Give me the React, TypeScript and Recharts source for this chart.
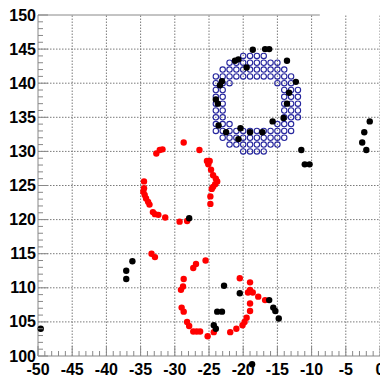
import React from 'react';
import {
  ScatterChart,
  Scatter,
  XAxis,
  YAxis,
  ReferenceLine,
  ReferenceArea,
  ReferenceDot,
} from 'recharts';

const AXIS = '#888888';
const GRID = '#7a7a7a';
const PAD_BLUE = '#26269e';
const HIT_RED = '#ff0000';
const HIT_BLACK = '#000000';
const FONT = '"Liberation Sans", Arial, Helvetica, sans-serif';

const X_DOMAIN: [number, number] = [-50, 0];
const Y_DOMAIN: [number, number] = [100, 150];
const X_MAJOR = [-50, -45, -40, -35, -30, -25, -20, -15, -10, -5, 0];
const Y_MAJOR = [100, 105, 110, 115, 120, 125, 130, 135, 140, 145, 150];
// minor ticks every unit along both axes
const X_TICKS = Array.from({ length: 51 }, (_, i) => -50 + i);
const Y_TICKS = Array.from({ length: 51 }, (_, i) => 100 + i);

// top frame stops here; the corner above y=140 is left blank
const FRAME_CUT_X = -8.8;

// pad ring: one row per y, listing the x of every pad in that row
const PAD_ROWS: [number, number[]][] = [
  [144, [-20, -19, -18, -17]],
  [143, [-22, -21, -20, -19, -18, -17, -16, -15]],
  [142, [-23, -22, -21, -20, -19, -18, -17, -16, -15, -14]],
  [141, [-24, -23, -22, -21, -20, -19, -18, -17, -16, -15, -14, -13]],
  [140, [-24, -23, -22, -15, -14, -13]],
  [139, [-24, -23, -14, -13, -12]],
  [138, [-24, -23, -14, -13, -12]],
  [137, [-24, -23, -14, -13, -12]],
  [136, [-24, -23, -14, -13, -12]],
  [135, [-24, -23, -14, -13, -12]],
  [134, [-24, -23, -22, -15, -14, -13]],
  [133, [-24, -23, -22, -21, -20, -19, -18, -17, -16, -15, -14, -13]],
  [132, [-23, -22, -21, -20, -19, -18, -17, -16, -15, -14]],
  [131, [-22, -21, -20, -19, -18, -17, -16, -15]],
  [130, [-20, -19, -18, -17]],
];

const RED_HITS: [number, number][] = [
  [-28.7, 131.3], [-26.4, 130.2], [-32.7, 129.7], [-32.2, 130.2], [-31.8, 130.3],
  [-25.3, 128.6], [-24.9, 128.6], [-25.1, 128.1], [-24.7, 127.3], [-24.4, 126.5],
  [-24.0, 126.0], [-23.8, 125.6], [-24.1, 125.2], [-24.4, 124.8], [-24.6, 124.5],
  [-24.8, 123.4], [-24.8, 122.3], [-34.5, 125.6], [-34.5, 124.6], [-34.6, 124.1],
  [-34.4, 123.6], [-34.2, 123.1], [-33.9, 122.6], [-33.7, 122.2], [-33.2, 121.1],
  [-32.9, 120.8], [-32.4, 120.7], [-31.4, 120.3], [-29.3, 119.7], [-28.2, 119.8],
  [-33.4, 115.0], [-32.9, 114.5],
  [-25.5, 114.0], [-26.9, 113.5], [-27.3, 112.9], [-28.7, 111.3], [-28.8, 110.2],
  [-29.1, 109.7], [-29.0, 107.1], [-28.7, 106.5], [-28.2, 105.0], [-27.9, 104.4],
  [-27.3, 103.6], [-26.8, 103.6], [-26.3, 103.6], [-25.2, 102.9], [-24.3, 103.5],
  [-21.9, 103.5], [-21.0, 104.0], [-20.1, 104.5], [-19.8, 105.0], [-19.5, 105.6],
  [-19.0, 106.6], [-19.0, 107.7], [-19.0, 109.7], [-19.3, 109.3], [-18.6, 109.3],
  [-19.0, 110.8], [-20.5, 111.4], [-17.8, 108.7], [-16.8, 108.2],
];

const BLACK_HITS: [number, number][] = [
  [-18.6, 144.9], [-16.8, 145.0], [-16.2, 145.0], [-13.6, 143.3], [-21.2, 143.3],
  [-20.7, 143.5], [-19.5, 142.3], [-12.3, 140.2], [-23.1, 140.3], [-23.4, 139.7],
  [-13.3, 138.6], [-24.0, 137.6], [-23.7, 137.0], [-13.6, 137.0], [-14.1, 134.9],
  [-15.7, 134.4], [-23.6, 133.8], [-20.4, 133.4], [-22.5, 132.8], [-19.0, 132.8],
  [-17.2, 132.8], [-20.7, 131.8], [-11.5, 130.2], [-11.0, 128.1], [-10.3, 128.1],
  [-1.5, 134.4], [-2.3, 132.8], [-2.6, 131.3], [-2.0, 130.2],
  [-27.9, 120.2], [-22.8, 110.3], [-20.5, 109.2], [-23.8, 106.5], [-23.1, 106.5],
  [-24.3, 104.5], [-24.0, 104.0], [-16.2, 108.2], [-15.6, 107.1], [-15.3, 106.6],
  [-14.8, 105.5],
  [-36.2, 113.9], [-37.1, 112.5], [-37.1, 111.3], [-49.6, 104.0],
];

// hits that fall just below the frame but are still drawn
const BLACK_OUTSIDE: [number, number][] = [[-18.7, 98.8]];

const pads = PAD_ROWS.flatMap(([y, xs]) => xs.map((x) => ({ x, y })));
const red = RED_HITS.map(([x, y]) => ({ x, y }));
const black = BLACK_HITS.map(([x, y]) => ({ x, y }));

const padShape = (p: any) => (
  <circle cx={p.cx} cy={p.cy} r={2.7} fill="none" stroke={PAD_BLUE} strokeWidth={1.1} />
);
const dotShape = (color: string) => (p: any) => (
  <circle cx={p.cx} cy={p.cy} r={3.2} fill={color} />
);

const labelStyle = {
  fontFamily: FONT,
  fontWeight: 700,
  fontSize: 16,
  fill: '#000',
};

const XTick = (props: any) => {
  const { x, y, payload } = props;
  const major = payload.value % 5 === 0;
  return (
    <g>
      <line x1={x} x2={x} y1={y} y2={y - (major ? 10 : 5)} stroke={AXIS} />
      {major && (
        <text x={x} y={y + 19} textAnchor="middle" style={labelStyle}>
          {payload.value}
        </text>
      )}
    </g>
  );
};

const YTick = (props: any) => {
  const { x, y, payload } = props;
  const major = payload.value % 5 === 0;
  return (
    <g>
      <line x1={x} x2={x + (major ? 10 : 5)} y1={y} y2={y} stroke={AXIS} />
      {major && (
        <text x={x - 2} y={y + 5.5} textAnchor="end" style={labelStyle}>
          {payload.value}
        </text>
      )}
    </g>
  );
};

export default function App() {
  return (
    <div style={{ position: 'absolute', left: 0, top: 0, background: '#fff' }}>
      <ScatterChart
        width={380}
        height={381}
        margin={{ top: 15, right: 0, bottom: 0, left: 0 }}
      >
        <XAxis
          type="number"
          dataKey="x"
          domain={X_DOMAIN}
          ticks={X_TICKS}
          interval={0}
          tickSize={0}
          tickMargin={0}
          tickLine={false}
          tick={XTick}
          axisLine={{ stroke: AXIS }}
          height={25}
        />
        <YAxis
          type="number"
          dataKey="y"
          domain={Y_DOMAIN}
          ticks={Y_TICKS}
          interval={0}
          tickSize={0}
          tickMargin={0}
          tickLine={false}
          tick={YTick}
          axisLine={{ stroke: AXIS }}
          width={38}
        />
        {X_MAJOR.filter((v) => v > X_DOMAIN[0]).map((v) => (
          <ReferenceLine
            key={`gx${v}`}
            x={v}
            stroke={GRID}
            strokeDasharray="1.5 1.5"
          />
        ))}
        {Y_MAJOR.filter((v) => v > Y_DOMAIN[0] && v < Y_DOMAIN[1]).map((v) => (
          <ReferenceLine
            key={`gy${v}`}
            y={v}
            stroke={GRID}
            strokeDasharray="1.5 1.5"
          />
        ))}
        <ReferenceArea
          x1={FRAME_CUT_X}
          x2={X_DOMAIN[1]}
          y1={140.25}
          y2={150.3}
          fill="#ffffff"
          fillOpacity={1}
          stroke="none"
          ifOverflow="visible"
        />
        <ReferenceLine
          segment={[
            { x: X_DOMAIN[0], y: Y_DOMAIN[1] },
            { x: FRAME_CUT_X, y: Y_DOMAIN[1] },
          ]}
          stroke={AXIS}
        />
        <Scatter data={pads} shape={padShape} isAnimationActive={false} />
        <Scatter data={red} shape={dotShape(HIT_RED)} isAnimationActive={false} />
        <Scatter data={black} shape={dotShape(HIT_BLACK)} isAnimationActive={false} />
        {BLACK_OUTSIDE.map(([x, y]) => (
          <ReferenceDot
            key={`o${x}`}
            x={x}
            y={y}
            r={3.2}
            fill={HIT_BLACK}
            stroke="none"
            ifOverflow="visible"
          />
        ))}
      </ScatterChart>
    </div>
  );
}
